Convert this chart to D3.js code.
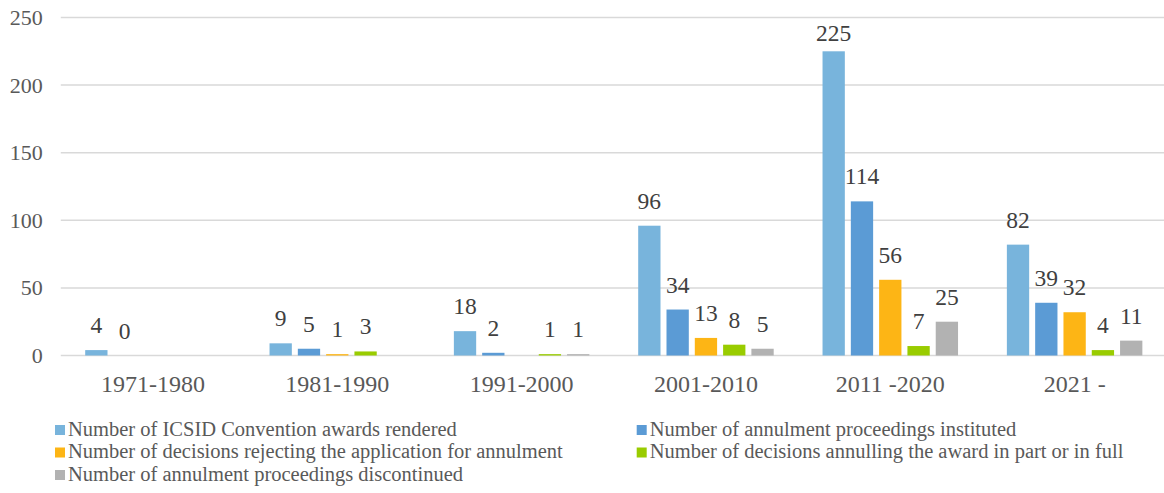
<!DOCTYPE html>
<html>
<head>
<meta charset="utf-8">
<script src="https://cdn.jsdelivr.net/npm/d3@7"></script>
<style>
  text { font-family: "Liberation Serif", Tinos, "Times New Roman" !important; }
</style>
</head>
<body style="margin:0">
<svg id="chart" width="1164" height="493"></svg>
<script>
// Decades on the category axis
const categories = ["1971-1980", "1981-1990", "1991-2000", "2001-2010", "2011 -2020", "2021 -"];

// One array per series; null = no value recorded for that decade
const awardsRendered       = [4, 9, 18, 96, 225, 82];
const annulmentInstituted  = [0, 5, 2, 34, 114, 39];
const decisionsRejecting   = [null, 1, null, 13, 56, 32];
const decisionsAnnulling   = [null, 3, 1, 8, 7, 4];
const proceedingsDiscont   = [null, null, 1, 5, 25, 11];

const seriesNames = [
  "Number of ICSID Convention awards rendered",
  "Number of annulment proceedings instituted",
  "Number of decisions rejecting the application for annulment",
  "Number of decisions annulling the award in part or in full",
  "Number of annulment proceedings discontinued"
];
const seriesValues = [awardsRendered, annulmentInstituted, decisionsRejecting, decisionsAnnulling, proceedingsDiscont];
const seriesColors = ["#78b4dc", "#5b9bd5", "#fdb515", "#99cc00", "#b2b2b2"];

const yTicks = [0, 50, 100, 150, 200, 250];

const svg = d3.select("#chart");
const serifText = sel => sel.style("font-family", '"Liberation Serif", Tinos, "Times New Roman"', "important");

const plot = { left: 60.8, right: 1166.8, top: 17.5, bottom: 355.5 };

const x0 = d3.scaleBand().domain(categories).range([plot.left, plot.right]).padding(0);
const x1 = d3.scaleBand().domain(d3.range(seriesNames.length))
  .range([21.4, 162.9]).paddingInner(0.212).paddingOuter(0.106);
const y = d3.scaleLinear().domain([0, 250]).range([plot.bottom, plot.top]);

// Horizontal gridlines
svg.append("g").selectAll("line").data(yTicks).join("line")
  .attr("x1", plot.left).attr("x2", plot.right)
  .attr("y1", d => y(d)).attr("y2", d => y(d))
  .attr("stroke", "#d9d9d9").attr("stroke-width", 1.5);

// Value axis labels
svg.append("g").selectAll("text").data(yTicks).join("text")
  .attr("x", 42.7).attr("y", d => y(d)).attr("dy", "0.34em")
  .attr("text-anchor", "end").attr("fill", "#595959")
  .attr("font-size", 22).call(serifText).text(d => d);

// Flatten into bar records
const bars = [];
categories.forEach((c, ci) => {
  seriesValues.forEach((vals, si) => {
    if (vals[ci] !== null) bars.push({ cat: c, s: si, v: vals[ci] });
  });
});

const groups = svg.append("g");
groups.selectAll("rect").data(bars).join("rect")
  .attr("x", d => x0(d.cat) + x1(d.s))
  .attr("width", x1.bandwidth())
  .attr("y", d => y(d.v))
  .attr("height", d => y(0) - y(d.v))
  .attr("fill", d => seriesColors[d.s]);

// Value labels above bars
groups.selectAll("text").data(bars).join("text")
  .attr("x", d => x0(d.cat) + x1(d.s) + x1.bandwidth() / 2)
  .attr("y", d => Math.max(y(d.v) - 17, 40.7))
  .attr("text-anchor", "middle").attr("fill", "#404040")
  .attr("font-size", 23.5).call(serifText).text(d => d.v);

// Category labels
svg.append("g").selectAll("text").data(categories).join("text")
  .attr("x", d => x0(d) + x0.bandwidth() / 2)
  .attr("y", 391.7)
  .attr("text-anchor", "middle").attr("fill", "#595959")
  .attr("font-size", 24).call(serifText).text(d => d);

// Legend: two columns, row-major
const legendCols = [55, 636.7];
const legend = svg.append("g").selectAll("g").data(seriesNames).join("g")
  .attr("transform", (d, i) => `translate(${legendCols[i % 2]},${425 + Math.floor(i / 2) * 22.5})`);
legend.append("rect").attr("width", 10).attr("height", 10).attr("fill", (d, i) => seriesColors[i]);
legend.append("text").attr("x", 13).attr("y", 10.7)
  .attr("fill", "#595959")
  .attr("font-size", 20.5).call(serifText).text(d => d);
</script>
</body>
</html>
